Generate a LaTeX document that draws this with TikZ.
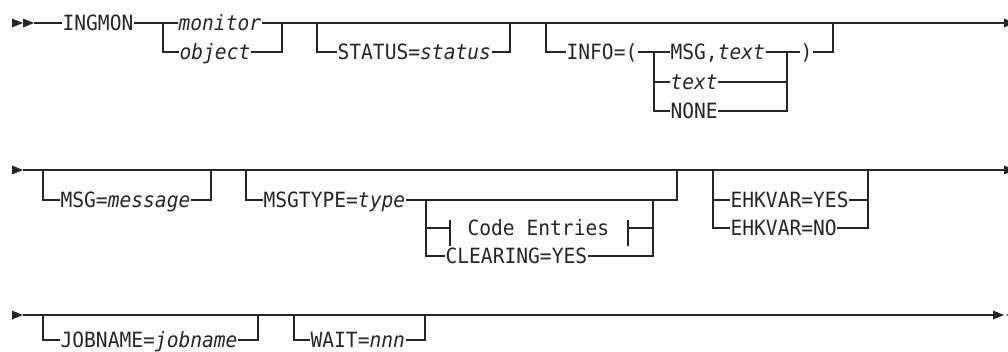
\documentclass[tikz,border=0pt]{standalone}
\usepackage{fontspec}
\newfontfamily\rrfont[FakeStretch=0.933]{DejaVu Sans Mono}
\usepackage{tikz}

\newcommand\tipright[2]{\fill (#1,#2-4.5) -- (#1+11,#2) -- (#1,#2+4.5) -- cycle;}
\newcommand\tipleft[2]{\fill (#1+11,#2-4.5) -- (#1,#2) -- (#1+11,#2+4.5) -- cycle;}

\begin{document}
\begin{tikzpicture}[
        x=1pt, y=-1pt, line width=1.2pt, black!85,
        every node/.append style={inner sep=0pt, anchor=west, text height=15pt, text depth=0pt,
            font=\rrfont\fontsize{21}{22}\selectfont},
        var/.style={font=\rrfont\fontsize{21}{22}\selectfont\itshape}
    ]
        \useasboundingbox (0,0) rectangle (1008,352);
        % row 1
        \tipright{12}{23}
        \tipright{23}{23}
        \tipright{1004}{23}
        \coordinate (r1s) at (34,23);
        \coordinate (r1e) at (1004,23);
        \node (ingmon) at (62,23) {INGMON};
        \node[var] (monitor) at (178,23) {monitor};
        \node[var] (object) at (179,52) {object};
        \node (status) at (337,52) {STATUS=\textit{status}};
        \node (info) at (566,52) {INFO=(};
        \node (msgtext) at (670,52) {MSG,\textit{text}};
        \node[var] (text) at (670,82) {text};
        \node (none) at (670,111) {NONE};
        \node (rparen) at (800,52) {)};
        \coordinate (a1) at (163,23);
        \coordinate (a2) at (282,23);
        \coordinate (a3) at (317,23);
        \coordinate (a4) at (510,23);
        \coordinate (a5) at (546,23);
        \coordinate (a6) at (833,23);
        \coordinate (a7) at (654,52);
        \coordinate (a8) at (787,52);
        \draw (r1s) -- (ingmon.west);
        \draw (ingmon.east) -- (monitor.west);
        \draw (monitor.east) -- (r1e);
        \draw (object.west) -| (a1);
        \draw (object.east) -| (a2);
        \draw (status.west) -| (a3);
        \draw (status.east) -| (a4);
        \draw (info.west) -| (a5);
        \draw (info.east) -- (msgtext.west);
        \draw (text.west) -| (a7);
        \draw (none.west) -| (a7);
        \draw (msgtext.east) -- (rparen.west);
        \draw (text.east) -| (a8);
        \draw (none.east) -| (a8);
        \draw (rparen.east) -| (a6);
        % row 2
        \tipright{12}{170}
        \tipright{1004}{170}
        \coordinate (r2s) at (23,170);
        \coordinate (r2e) at (1004,170);
        \node (msg) at (60,200) {MSG=\textit{message}};
        \node (msgtype) at (263,200) {MSGTYPE=\textit{type}};
        \node (code) at (467,228) {Code Entries};
        \node (clear) at (445,256) {CLEARING=YES};
        \node (ehkyes) at (730,200) {EHKVAR=YES};
        \node (ehkno) at (730,228) {EHKVAR=NO};
        \coordinate (b1) at (43,170);
        \coordinate (b2) at (211,170);
        \coordinate (b3) at (246,170);
        \coordinate (b4) at (677,170);
        \coordinate (b5) at (426,200);
        \coordinate (b6) at (653,200);
        \coordinate (b7) at (713,170);
        \coordinate (b8) at (868,170);
        \coordinate (bl) at (450,228);
        \coordinate (br) at (628,228);
        \draw (r2s) -- (r2e);
        \draw (msg.west) -| (b1);
        \draw (msg.east) -| (b2);
        \draw (msgtype.west) -| (b3);
        \draw (msgtype.east) -| (b4);
        \draw (bl) -| (b5);
        \draw ([yshift=8pt]bl) -- ([yshift=-18pt]bl);
        \draw ([yshift=8pt]br) -- ([yshift=-18pt]br);
        \draw (br) -| (b6);
        \draw (clear.west) -| (b5);
        \draw (clear.east) -| (b6);
        \draw (ehkyes.west) -| (b7);
        \draw (ehkno.west) -| (b7);
        \draw (ehkyes.east) -| (b8);
        \draw (ehkno.east) -| (b8);
        % row 3
        \tipright{12}{315}
        \tipright{993}{315}
        \tipleft{1006}{315}
        \coordinate (r3s) at (23,315);
        \coordinate (r3e) at (993,315);
        \node (jobname) at (60,340) {JOBNAME=\textit{jobname}};
        \node (wait) at (310,340) {WAIT=\textit{nnn}};
        \coordinate (c1) at (43,315);
        \coordinate (c2) at (258,315);
        \coordinate (c3) at (294,315);
        \coordinate (c4) at (425,315);
        \draw (r3s) -- (r3e);
        \draw (jobname.west) -| (c1);
        \draw (jobname.east) -| (c2);
        \draw (wait.west) -| (c3);
        \draw (wait.east) -| (c4);
    \end{tikzpicture}
\end{document}
